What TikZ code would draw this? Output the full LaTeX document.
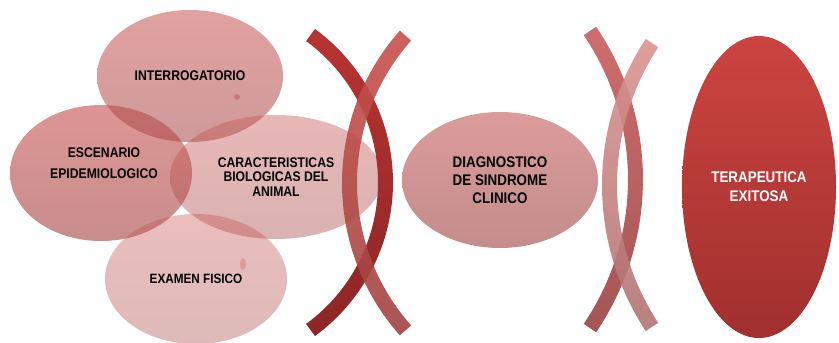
\documentclass[tikz,border=0pt]{standalone}
\usepackage{fontspec}
\setmainfont{Liberation Sans}
\newfontfamily\narrowsans[FakeStretch=0.87]{Liberation Sans}
\usetikzlibrary{shapes.geometric}

\definecolor{rosetop}{RGB}{200,84,82}
\definecolor{rosebot}{RGB}{165,72,70}
\definecolor{diagtop}{RGB}{219,155,155}
\definecolor{diagbot}{RGB}{196,140,140}
\definecolor{teratop}{RGB}{204,68,64}
\definecolor{terabot}{RGB}{160,48,46}
\definecolor{bandAtop}{RGB}{183,52,50}
\definecolor{bandAbot}{RGB}{140,38,38}
\definecolor{bandBtop}{RGB}{201,80,77}
\definecolor{bandBbot}{RGB}{160,68,66}
\definecolor{bandCtop}{RGB}{205,110,109}
\definecolor{bandCbot}{RGB}{165,85,85}
\definecolor{bandDtop}{RGB}{218,147,145}
\definecolor{bandDbot}{RGB}{176,116,115}

\begin{document}
\begin{tikzpicture}[x=1pt,y=-1pt,
  blob/.style={ellipse, inner sep=0pt, align=center, text opacity=1,
    top color=rosetop, bottom color=rosebot,
    font=\narrowsans\bfseries\fontsize{14}{14.5}\selectfont},
  txt/.style={inner sep=0pt, align=center,
    font=\narrowsans\bfseries\fontsize{14}{21}\selectfont}]
\useasboundingbox (0,0) rectangle (839,343);

% overlapping ellipses
\node[blob, fill opacity=0.62, minimum width=182pt, minimum height=136pt] (esc) at (101,173) {};
\node[blob, fill opacity=0.55, minimum width=186pt, minimum height=132pt] (inter) at (190,76) {INTERROGATORIO};
\node[blob, fill opacity=0.42, minimum width=212pt, minimum height=124pt] (carac) at (276,177)
  {CARACTERISTICAS\\BIOLOGICAS DEL\\ANIMAL};
\node[blob, fill opacity=0.38, minimum width=182pt, minimum height=130pt,
  font=\narrowsans\bfseries\fontsize{13.5}{14.5}\selectfont] (exam) at (196,279) {EXAMEN FISICO};
\node[txt] (esc-txt) at (104,163) {ESCENARIO\\EPIDEMIOLOGICO};
\fill[rosetop, opacity=0.5] (237,97) circle[radius=3];
\fill[rosetop, opacity=0.3] (243,264) ellipse[x radius=3, y radius=6];

\node[blob, top color=diagtop, bottom color=diagbot, minimum width=196pt, minimum height=136pt,
  font=\narrowsans\bfseries\fontsize{15.4}{17.7}\selectfont] (diag) at (500,180) {DIAGNOSTICO\\DE SINDROME\\CLINICO};
\node[blob, top color=teratop, bottom color=terabot, minimum width=154pt, minimum height=302pt,
  text=white, font=\narrowsans\bfseries\fontsize{15.4}{19}\selectfont] (tera) at (759,187) {TERAPEUTICA\\EXITOSA};

% crossed bands
\shade[top color=bandAtop, bottom color=bandAbot]
  ([shift={(203,182.5)}]-53.9:190) arc[start angle=-53.9, end angle=53.9, radius=190]
  -- ++(53.9:-15) arc[start angle=53.9, end angle=-53.9, radius=175] -- cycle;
\shade[top color=bandBtop, bottom color=bandBbot, opacity=0.9]
  ([shift={(571.5,183)}]138.4:229.5) arc[start angle=138.4, end angle=221.6, radius=229.5]
  -- ++(221.6:-15) arc[start angle=221.6, end angle=138.4, radius=214.5] -- cycle;
\shade[top color=bandCtop, bottom color=bandCbot]
  ([shift={(370.5,179.5)}]-34.1:272.5) arc[start angle=-34.1, end angle=34.1, radius=272.5]
  -- ++(34.1:-15) arc[start angle=34.1, end angle=-34.1, radius=257.5] -- cycle;
\shade[top color=bandDtop, bottom color=bandDbot, opacity=0.9]
  ([shift={(868,185)}]146.7:266) arc[start angle=146.7, end angle=213.3, radius=266]
  -- ++(213.3:-15) arc[start angle=213.3, end angle=146.7, radius=251] -- cycle;
\end{tikzpicture}
\end{document}
